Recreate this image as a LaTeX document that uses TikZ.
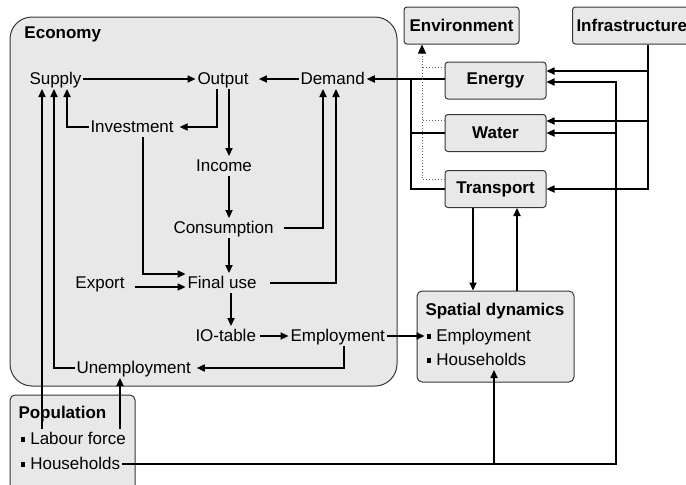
\documentclass[tikz,border=0pt]{standalone}
\usepackage{fontspec}
\setmainfont{Liberation Sans}
\usetikzlibrary{arrows.meta,calc}
\definecolor{boxgray}{RGB}{232,232,232}
\definecolor{edgegray}{RGB}{55,55,55}
\newcommand{\sqbullet}{\rule[1.2pt]{2.3pt}{2.3pt}\hspace{2.6pt}}
\begin{document}
\begin{tikzpicture}[x=0.5pt,y=-0.5pt,font=\fontsize{8.5}{10}\selectfont]
    \tikzstyle{every node}=[inner sep=0.8pt]
    \tikzstyle{lbl}=[anchor=west,text height=6.5pt,text depth=1.5pt]
    \tikzstyle{title}=[lbl,font=\fontsize{8.5}{10}\selectfont\bfseries]
    \tikzstyle{area}=[draw=edgegray,fill=boxgray,line width=0.5pt]
    \tikzstyle{sub}=[area,rounded corners=1.5pt,minimum height=18.5pt,font=\fontsize{8.5}{10}\selectfont\bfseries]
    \tikzstyle{link}=[line width=0.55pt,-{Triangle[length=4pt,width=3.6pt]}]
    \tikzstyle{plain}=[line width=0.55pt]
    \tikzstyle{impact}=[densely dotted,line width=0.45pt,draw=black!60]
    \useasboundingbox (0,0) rectangle (686,484);
    \node[area,rounded corners=11pt,minimum width=193.5pt,minimum height=184.5pt](economy)at(203.5,201.5){};
    \node[area,rounded corners=2.5pt,minimum width=62.5pt,minimum height=52.5pt](population)at(72.5,447.5){};
    \node[area,rounded corners=2.5pt,minimum width=78.5pt,minimum height=45.5pt](spatial)at(495.5,336.5){};
    \node[sub,minimum width=57.5pt](env)at(461.5,25.5){Environment};
    \node[sub,anchor=west,text width=60pt,align=left,inner xsep=2pt](infra)at(572,25.5){Infrastructure};
    \node[sub,minimum width=50.5pt](energy)at(495.5,80.5){Energy};
    \node[sub,minimum width=50.5pt](water)at(495.5,133){Water};
    \node[sub,minimum width=50.5pt](transport)at(495.5,189){Transport};
    \draw node[title](ecotitle)at(22.5,33){Economy}
          node[lbl](supply)at(27.5,79){Supply}
          node[lbl](output)at(195.5,79){Output}
          node[lbl](demand)at(298.5,79){Demand}
          node[lbl](invest)at(88.5,127){Investment}
          node[lbl,anchor=center](income)at(224,166){Income}
          node[lbl](consum)at(171.5,228){Consumption}
          node[lbl](export)at(73.5,283){Export}
          node[lbl](finaluse)at(185.5,283){Final use}
          node[lbl](iotable)at(193.5,336){IO-table}
          node[lbl](employ)at(288.5,336){Employment}
          node[lbl](unemploy)at(74.5,368){Unemployment};
    \draw node[title](poptitle)at(16.5,413){Population}
          node[lbl](labour)at(18.5,439){\sqbullet Labour force}
          node[lbl](pophh)at(18.5,464){\sqbullet Households};
    \draw node[title](sptitle)at(423.5,310){Spatial dynamics}
          node[lbl](spemp)at(424.5,336){\sqbullet Employment}
          node[lbl](sphh)at(424.5,360){\sqbullet Households};
    \coordinate(hhbus)at(616,0);
    \coordinate(ibus)at(648,0);
    \coordinate(dbus)at(411,0);
    \coordinate(ebus)at(422,0);
    \draw[link](supply.east)--(output.west);
    \draw[link](demand.west)--([xshift=4.2pt]output.east);
    \draw[link](output.south -| 217,0)|-([xshift=2pt]invest.east);
    \draw[link](output.south -| 229,0)--(income.north -| 229,0);
    \draw[link](invest.west)-|(supply.south -| 67,0);
    \draw[link](income.south -| 229,0)--(consum.north -| 229,0);
    \draw[link]([xshift=4pt]consum.east)-|(demand.south -| 323,0);
    \draw[link](invest.south -| 143,0)|-([yshift=4.5pt]finaluse.west);
    \draw[link]([xshift=4pt,yshift=-2pt]export.east)--([yshift=-2pt]finaluse.west);
    \draw[link](consum.south -| 229,0)--(finaluse.north -| 229,0);
    \draw[link]([xshift=6pt]finaluse.east)-|(demand.south -| 336,0);
    \draw[link](finaluse.south -| 231,0)--(iotable.north -| 231,0);
    \draw[link]([xshift=1pt]iotable.east)--(employ.west);
    \draw[link](employ.south -| 344,0)|-([xshift=2pt]unemploy.east);
    \draw[link](employ.east)--(spemp.west);
    \draw[link](unemploy.west)-|(supply.south -| 54,0);
    \draw[link](labour.north -| 42,0)--(supply.south -| 42,0);
    \draw[link](labour.north -| 120,0)--(unemploy.south -| 120,0);
    \draw[link](pophh.east)-|(sphh.south -| 494,0);
    \draw[link](pophh.east)-|($(hhbus |- energy.east)+(0,1.5)$)--($(energy.east)+(0,1.5)$);
    \draw[link](hhbus |- water.east)--(water.east);
    \draw[link](infra.south -| ibus)|-(transport.east);
    \draw[link]($(ibus |- energy.east)+(0,-9.5)$)--($(energy.east)+(0,-9.5)$);
    \draw[link]($(ibus |- water.east)+(0,-12)$)--($(water.east)+(0,-12)$);
    \draw[link](energy.west |- demand.east)--(demand.east);
    \draw[plain](water.west)-|(dbus |- demand.east);
    \draw[plain](transport.west)-|(dbus |- demand.east);
    \draw[impact]($(energy.west)+(0,-13.5)$)--($(ebus |- energy.west)+(0,-13.5)$);
    \draw[impact]($(water.west)+(0,-13)$)--($(ebus |- water.west)+(0,-13)$);
    \draw[impact,-{Triangle[length=4.5pt,width=4pt,color=black]}]($(transport.west)+(0,-10)$)-|(env.south -| ebus);
    \draw[link](transport.south -| 473,0)--(spatial.north -| 473,0);
    \draw[link](spatial.north -| 517,0)--(transport.south -| 517,0);
\end{tikzpicture}
\end{document}
